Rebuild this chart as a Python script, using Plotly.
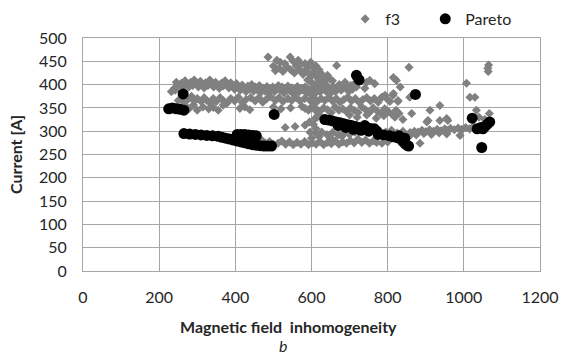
import plotly.graph_objects as go

# ---- f3 (gray) points: magnetic field inhomogeneity, current [A]
f3_x = [
    # upper band ~385-410
    232,240,245,252,258,262,268,272,278,283,288,292,298,303,308,313,318,322,328,333,338,343,348,353,358,363,368,373,378,383,
    388,393,398,403,408,413,418,423,428,433,438,443,448,453,458,463,468,473,478,483,488,493,498,503,508,513,518,523,528,533,
    538,543,548,553,558,563,568,573,578,583,588,593,598,603,608,613,618,623,628,633,638,643,648,653,658,663,668,673,678,683,
    688,693,698,703,708,713,718,242,268,
    # peak cluster
    486,509,518,530,544,552,565,572,583,590,598,604,612,620,666,500,505,515,525,535,545,555,560,570,578,585,592,600,606,612,
    618,624,630,636,642,648,655,600,590,610,620,630,640,
    # band ~360-375
    250,258,265,275,285,292,300,310,318,325,335,342,350,360,368,378,388,398,408,418,428,440,452,462,472,482,492,505,515,525,
    538,548,560,570,582,595,605,615,625,635,645,655,665,675,685,695,705,715,725,735,745,755,765,775,785,800,814,827,858,
    # band ~340-355
    268,278,290,300,315,330,342,355,368,412,425,438,500,520,545,575,583,592,600,612,622,632,642,652,662,672,682,692,702,712,
    722,732,742,752,762,772,782,792,802,812,822,830,
    # band ~310-335
    531,557,583,595,610,620,700,720,745,770,790,819,840,600,605,610,615,605,612,
    # lower band ~270-285
    420,432,445,458,470,478,490,500,512,522,532,542,552,562,572,582,592,602,612,622,632,642,652,662,672,682,692,702,712,722,
    732,742,752,762,771,785,800,885,
    # band ~285-300
    596,610,627,640,655,670,685,700,714,600,620,650,680,
    # right band ~290-310
    780,795,810,825,840,859,870,880,890,900,910,920,930,940,950,958,965,975,985,990,995,1005,1015,1025,858,875,895,915,935,955,
    # scattered right
    856,1063,1065,1064,1007,1016,1029,1033,1067,937,911,863,903,937,958,955,906,815,823,833,815,793,806,827,745,766,740,753,785,
    1040,1055,
]
f3_y = [
    385,392,405,398,403,395,408,400,395,405,398,410,402,395,407,400,393,404,398,410,402,395,405,399,392,403,397,408,400,393,
    404,398,390,402,395,388,399,393,385,397,390,400,386,395,388,398,384,392,386,396,383,390,395,385,392,398,388,395,382,390,
    397,387,393,380,390,396,385,392,388,395,382,390,386,393,380,388,395,384,390,398,386,392,380,388,395,385,392,400,388,395,
    405,392,385,398,390,402,395,388,407,
    459,452,448,445,459,450,452,443,445,438,448,437,440,432,441,440,430,435,428,438,432,425,440,430,422,432,425,418,428,420,
    412,425,418,410,420,412,408,405,410,400,405,402,398,
    366,372,362,368,375,365,370,364,372,366,360,370,364,372,366,360,370,365,373,362,368,372,365,372,362,369,374,366,372,364,
    370,366,372,365,370,367,373,364,370,366,372,365,370,362,368,373,365,370,362,368,372,365,370,362,373,368,377,366,373,
    355,348,356,345,352,348,351,345,356,349,352,346,352,348,350,353,349,345,352,348,343,350,346,340,352,345,348,342,350,345,
    340,352,346,340,350,344,338,348,342,336,345,338,
    308,310,313,320,328,335,335,330,335,328,333,330,325,380,360,345,330,315,305,
    283,278,282,276,280,275,278,272,274,279,272,277,271,276,272,278,271,275,272,278,271,276,273,279,272,277,274,280,275,283,
    276,281,274,279,276,274,277,274,
    298,296,298,293,297,292,296,293,298,285,288,286,289,
    300,298,302,296,300,297,300,298,302,299,303,300,304,301,305,302,306,303,307,291,304,308,305,310,290,292,295,293,296,294,
    437,435,442,428,403,373,373,345,338,355,345,338,320,323,323,327,323,415,409,395,381,377,364,364,405,402,392,409,373,
    330,325,
]

# ---- Pareto (black) points
pareto_x = [
    225,235,245,255,265,263,
    265,280,295,310,325,340,355,365,375,385,395,405,415,425,435,445,455,465,475,485,495,
    405,415,425,435,445,455,
    502,
    718,725,
    873,
    635,645,655,665,675,685,695,705,715,725,735,745,755,670,690,710,730,750,765,740,771,
    775,790,805,815,825,835,840,845,850,855,845,830,
    1022,1035,1045,1055,1062,1068,1050,1047,
]
pareto_y = [
    348,350,348,347,345,380,
    295,294,293,292,291,290,289,287,285,283,281,279,277,275,273,271,270,269,268,268,268,
    293,293,293,292,291,290,
    336,
    420,410,
    379,
    325,324,322,320,318,316,314,312,310,308,307,306,306,312,308,304,302,300,305,312,300,
    293,292,290,288,286,283,278,274,270,268,285,290,
    328,305,308,310,315,320,305,265,
]

x_ticks = [0, 200, 400, 600, 800, 1000, 1200]
y_ticks = [0, 50, 100, 150, 200, 250, 300, 350, 400, 450, 500]

FONT = "Lato, 'Open Sans', sans-serif"
GRID = "#a6a6a6"
TXT = "#262626"

fig = go.Figure()
fig.add_trace(go.Scatter(
    x=f3_x, y=f3_y, mode="markers", name="f3", legend="legend",
    marker=dict(symbol="diamond", size=7, color="#808080", line=dict(width=0)),
))
fig.add_trace(go.Scatter(
    x=pareto_x, y=pareto_y, mode="markers", name="Pareto", legend="legend2",
    marker=dict(symbol="circle", size=11, color="#000000", line=dict(width=0)),
))

leg_common = dict(orientation="h", xref="container", yref="container",
                  xanchor="left", yanchor="middle",
                  font=dict(size=16, color=TXT), itemsizing="trace",
                  bgcolor="rgba(0,0,0,0)")

fig.update_layout(
    width=564, height=358,
    margin=dict(l=83, r=24, t=38, b=87),
    paper_bgcolor="white", plot_bgcolor="white",
    font=dict(family=FONT, size=16, color=TXT),
    showlegend=True,
    legend=dict(x=0.612, y=0.947, **leg_common),
    legend2=dict(x=0.754, y=0.947, **leg_common),
    xaxis=dict(range=[0, 1200], tickvals=x_ticks, showgrid=True, gridcolor=GRID, gridwidth=1,
               showline=True, linecolor=GRID, linewidth=1, mirror=True, zeroline=False,
               ticks="", ticklabelstandoff=12, automargin=False,
               tickfont=dict(size=16, color=TXT)),
    yaxis=dict(range=[0, 500], tickvals=y_ticks, showgrid=True, gridcolor=GRID, gridwidth=1,
               showline=True, linecolor=GRID, linewidth=1, mirror=True, zeroline=False,
               ticks="", ticklabelstandoff=12, automargin=False,
               tickfont=dict(size=16, color=TXT),
               title=dict(text="<b>Current [A]</b>", font=dict(size=16), standoff=12)),
    annotations=[
        dict(text="<b>Magnetic field  inhomogeneity</b>", x=0.45, y=-0.238, xref="paper", yref="paper",
             showarrow=False, font=dict(size=16, family=FONT, color=TXT),
             xanchor="center", yanchor="middle"),
        dict(text="<i>b</i>", x=0.437, y=-0.32, xref="paper", yref="paper",
             showarrow=False, font=dict(size=16, family=FONT, color=TXT),
             xanchor="center", yanchor="middle"),
    ],
)

fig.write_html("out.html")
